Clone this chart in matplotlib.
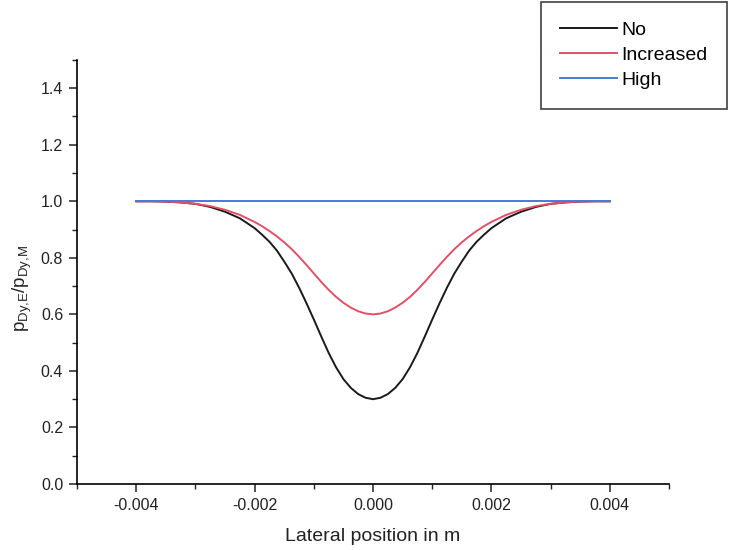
import matplotlib
matplotlib.use("Agg")
import matplotlib.pyplot as plt
from matplotlib.ticker import MultipleLocator

plt.rcParams['font.family'] = ['Liberation Sans', 'DejaVu Sans']

x = [-0.004, -0.00375, -0.0035, -0.00325, -0.003, -0.00275, -0.0025, -0.00225,
     -0.002, -0.001875, -0.00175, -0.001625, -0.0015, -0.001375, -0.00125, -0.001125,
     -0.001, -0.000875, -0.00075, -0.000625, -0.0005, -0.000375, -0.00025, -0.000125,
     0.0,
     0.000125, 0.00025, 0.000375, 0.0005, 0.000625, 0.00075, 0.000875, 0.001,
     0.001125, 0.00125, 0.001375, 0.0015, 0.001625, 0.00175, 0.001875, 0.002,
     0.00225, 0.0025, 0.00275, 0.003, 0.00325, 0.0035, 0.00375, 0.004]

no_vals = [1.0, 1.0, 0.999, 0.996, 0.991, 0.980, 0.963, 0.940,
           0.905, 0.882, 0.857, 0.826, 0.787, 0.745, 0.695, 0.640,
           0.582, 0.522, 0.464, 0.413, 0.371, 0.340, 0.318, 0.305,
           0.300,
           0.305, 0.318, 0.340, 0.371, 0.413, 0.464, 0.522, 0.582,
           0.640, 0.695, 0.745, 0.787, 0.826, 0.857, 0.882, 0.905,
           0.940, 0.963, 0.980, 0.991, 0.996, 0.999, 1.0, 1.0]

increased_vals = [1.0, 1.0, 0.999, 0.996, 0.991, 0.983, 0.970, 0.952,
                  0.927, 0.912, 0.895, 0.876, 0.855, 0.831, 0.804, 0.775,
                  0.745, 0.715, 0.687, 0.662, 0.641, 0.624, 0.611, 0.603,
                  0.600,
                  0.603, 0.611, 0.624, 0.641, 0.662, 0.687, 0.715, 0.745,
                  0.775, 0.804, 0.831, 0.855, 0.876, 0.895, 0.912, 0.927,
                  0.952, 0.970, 0.983, 0.991, 0.996, 0.999, 1.0, 1.0]

high_vals = [1.0] * len(x)

labels = ["No", "Increased", "High"]
colors = ["#1a1a1a", "#e05068", "#4a7ad8"]

fig = plt.figure(figsize=(7.3, 5.5), dpi=100)
ax = fig.add_axes([0.1055, 0.12, 0.811, 0.771])

for vals, lab, c in zip([no_vals, increased_vals, high_vals], labels, colors):
    ax.plot(x, vals, color=c, lw=1.4, label=lab, solid_joinstyle="round")

ax.set_xlim(-0.005, 0.005)
ax.set_ylim(0, 1.5)
ax.xaxis.set_minor_locator(MultipleLocator(0.001))
ax.yaxis.set_minor_locator(MultipleLocator(0.1))
ax.set_xticks([-0.004, -0.002, 0.0, 0.002, 0.004])
ax.set_xticklabels(["-0.004", "-0.002", "0.000", "0.002", "0.004"])
ax.set_yticks([0.0, 0.2, 0.4, 0.6, 0.8, 1.0, 1.2, 1.4])
ax.set_yticklabels(["0.0", "0.2", "0.4", "0.6", "0.8", "1.0", "1.2", "1.4"])

for s in ["top", "right"]:
    ax.spines[s].set_visible(False)
for s in ["left", "bottom"]:
    ax.spines[s].set_linewidth(1.2)

ax.tick_params(which="major", direction="out", length=6, width=1.1, labelsize=11.5,
               colors="#222222", pad=4)
ax.tick_params(which="minor", direction="out", length=3.5, width=1.0, colors="#222222")

ax.set_xlabel("Lateral position in m", fontsize=14, color="#222222")
ax.xaxis.set_label_coords(0.5, -0.104)
ax.set_ylabel(r"$\mathregular{p_{Dy{,}E}/p_{Dy{,}M}}$", fontsize=13.5, color="#222222")
ax.yaxis.set_label_coords(-0.073, 0.462)

leg = fig.legend(loc="upper left", bbox_to_anchor=(541 / 730, 0.0, 186 / 730, 1 - 2 / 550),
                 mode="expand", fontsize=14, frameon=True, fancybox=False,
                 handlelength=2.9, handletextpad=0.25, labelspacing=0.38,
                 borderpad=1.0, borderaxespad=0.0)
leg.get_frame().set_edgecolor("#111111")
leg.get_frame().set_linewidth(1.2)

fig.savefig("out.png", dpi=100)
